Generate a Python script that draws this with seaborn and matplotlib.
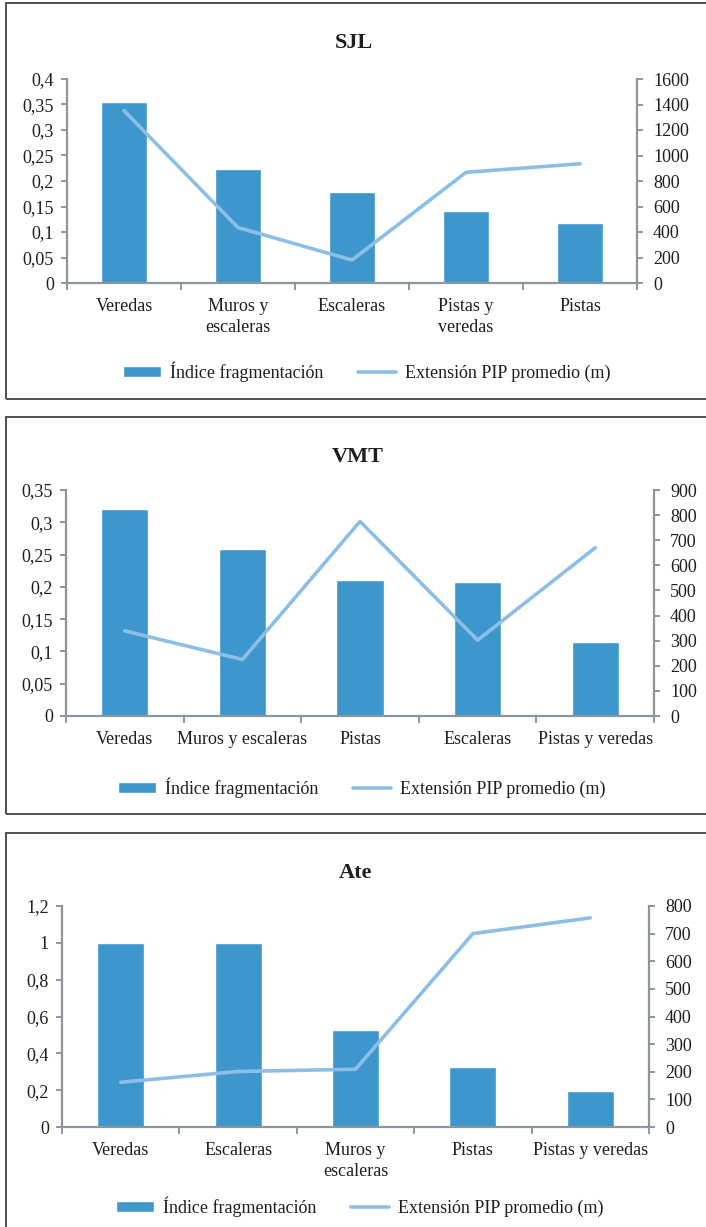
import numpy as np
import pandas as pd
import matplotlib
matplotlib.use("Agg")
import matplotlib.pyplot as plt
from matplotlib.patches import Rectangle
from matplotlib.ticker import FuncFormatter, FixedLocator, MultipleLocator
import seaborn as sns

sns.set_style("white")
plt.rcParams["font.family"] = ["Liberation Serif", "DejaVu Serif"]

# ---- data ----
sjl_cats = ["Veredas", "Muros y\nescaleras", "Escaleras", "Pistas y\nveredas", "Pistas"]
sjl_index = [0.355, 0.223, 0.178, 0.142, 0.118]
sjl_ext = [1352, 435, 180, 868, 935]

vmt_cats = ["Veredas", "Muros y escaleras", "Pistas", "Escaleras", "Pistas y veredas"]
vmt_index = [0.320, 0.258, 0.210, 0.207, 0.114]
vmt_ext = [339, 225, 775, 302, 670]

ate_cats = ["Veredas", "Escaleras", "Muros y\nescaleras", "Pistas", "Pistas y veredas"]
ate_index = [1.0, 1.0, 0.527, 0.324, 0.195]
ate_ext = [162, 201, 209, 700, 757]

BAR_C = "#3d97cc"
LINE_C = "#8dbfe6"
SPINE_C = "#8e969d"
TEXT_C = "#1e1e1e"
FS = 13

W, H = 706, 1227
fig = plt.figure(figsize=(W / 100, H / 100), dpi=100)


def px_rect(l, r, t, b):
    return [l / W, 1 - b / H, (r - l) / W, (b - t) / H]


def comma(v, _pos=None):
    s = f"{v:g}"
    return s.replace(".", ",")


panels = [
    dict(title="SJL", cats=sjl_cats, idx=sjl_index, ext=sjl_ext,
         box=(6, 3, 399), ax=(67, 637, 79, 283), title_xy=(354, 43),
         lmax=0.4, lstep=0.05, rmax=1600, rstep=200, leg=(367, 372)),
    dict(title="VMT", cats=vmt_cats, idx=vmt_index, ext=vmt_ext,
         box=(6, 417, 814), ax=(66, 654, 490, 716), title_xy=(358, 457),
         lmax=0.35, lstep=0.05, rmax=900, rstep=100, leg=(362, 788)),
    dict(title="Ate", cats=ate_cats, idx=ate_index, ext=ate_ext,
         box=(6, 833, 1245), ax=(62, 649, 906, 1127), title_xy=(356, 873),
         lmax=1.2, lstep=0.2, rmax=800, rstep=100, leg=(360, 1207)),
]

for p in panels:
    # frame around each chart
    bl, bt, bb = p["box"]
    fig.patches.append(Rectangle((bl / W, 1 - bb / H), (730 - bl) / W, (bb - bt) / H,
                                 transform=fig.transFigure, fill=False,
                                 edgecolor="#505050", linewidth=1.4, clip_on=False))

    l, r, t, b = p["ax"]
    ax = fig.add_axes(px_rect(l, r, t, b))
    n = len(p["cats"])
    df = pd.DataFrame({"cat": p["cats"], "idx": p["idx"], "ext": p["ext"],
                       "pos": np.arange(n)})

    sns.barplot(data=df, x="pos", y="idx", ax=ax, color=BAR_C, width=0.4,
                saturation=1, native_scale=True, label="Índice fragmentación")
    if ax.get_legend() is not None:
        ax.get_legend().remove()
    ax2 = ax.twinx()
    sns.lineplot(data=df, x="pos", y="ext", ax=ax2, color=LINE_C, linewidth=2.6,
                 label="Extensión PIP promedio (m)", legend=False)
    if ax2.get_legend() is not None:
        ax2.get_legend().remove()

    ax.set_xlim(-0.5, n - 0.5)
    ax.set_ylim(0, p["lmax"])
    ax2.set_ylim(0, p["rmax"])
    ax.yaxis.set_major_locator(MultipleLocator(p["lstep"]))
    ax.yaxis.set_major_formatter(FuncFormatter(comma))
    ax2.yaxis.set_major_locator(MultipleLocator(p["rstep"]))
    ax2.yaxis.set_major_formatter(FuncFormatter(comma))

    # tick marks at category boundaries, labels centred under bars
    ax.xaxis.set_major_locator(FixedLocator(np.arange(n + 1) - 0.5))
    ax.xaxis.set_major_formatter(FuncFormatter(lambda v, pos: ""))
    ax.xaxis.set_minor_locator(FixedLocator(np.arange(n)))
    ax.set_xticklabels(p["cats"], minor=True)
    ax.set_xlabel("")
    ax.set_ylabel("")
    ax2.set_xlabel("")
    ax2.set_ylabel("")

    for a in (ax, ax2):
        for s in a.spines.values():
            s.set_visible(False)
    ax.spines["left"].set_visible(True)
    ax.spines["bottom"].set_visible(True)
    ax2.spines["right"].set_visible(True)
    for s in (ax.spines["left"], ax.spines["bottom"], ax2.spines["right"]):
        s.set_color(SPINE_C)
        s.set_linewidth(1.6)

    ax.tick_params(axis="x", which="major", direction="out", length=5, width=1.4,
                   color=SPINE_C, bottom=True)
    ax.tick_params(axis="x", which="minor", length=0, pad=11, labelsize=FS,
                   labelcolor=TEXT_C, bottom=True)
    ax.tick_params(axis="y", direction="out", length=4.5, width=1.4, color=SPINE_C,
                   pad=5, labelsize=FS, labelcolor=TEXT_C, left=True)
    ax2.tick_params(axis="y", direction="out", length=4.5, width=1.4, color=SPINE_C,
                    pad=7, labelsize=FS, labelcolor=TEXT_C, right=True)
    for lab in ax.get_xticklabels(minor=True):
        lab.set_linespacing(1.3)
        lab.set_verticalalignment("top")

    tx, ty = p["title_xy"]
    fig.text(tx / W, 1 - ty / H, p["title"], ha="center", va="center",
             fontsize=16, fontweight="bold", color=TEXT_C)

    h1, l1 = ax.get_legend_handles_labels()
    h2, l2 = ax2.get_legend_handles_labels()
    lx, ly = p["leg"]
    fig.legend(h1 + h2, l1 + l2, loc="center", bbox_to_anchor=(lx / W, 1 - ly / H),
               ncol=2, frameon=False, fontsize=FS, handlelength=2.1,
               handleheight=0.55, handletextpad=0.5, columnspacing=1.9,
               labelcolor=TEXT_C)

fig.savefig("out.png", dpi=100)
